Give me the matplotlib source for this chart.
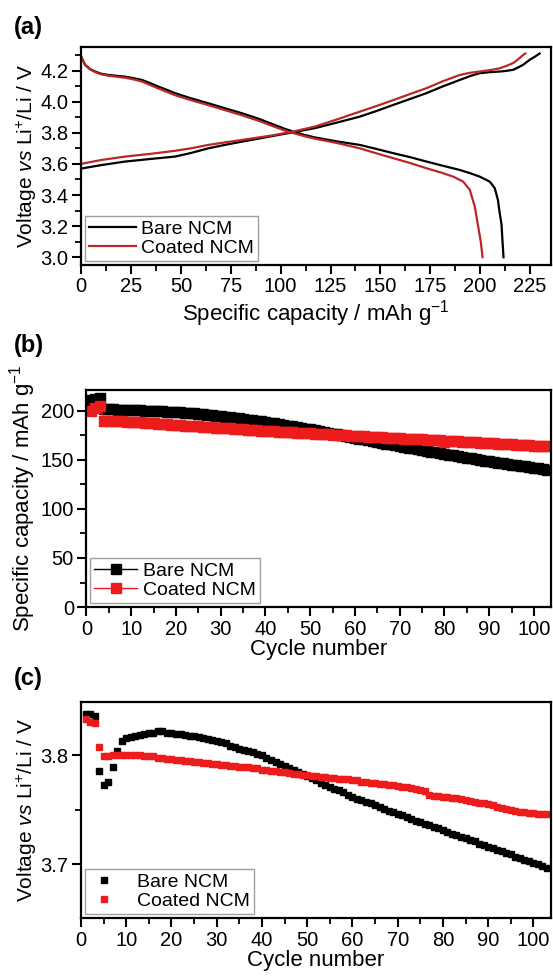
import matplotlib.pyplot as plt
from matplotlib.ticker import MultipleLocator, FormatStrFormatter

plt.rcParams['font.family'] = ['Liberation Sans', 'DejaVu Sans']
plt.rcParams['mathtext.fontset'] = 'custom'
plt.rcParams['mathtext.rm'] = 'Liberation Sans'
plt.rcParams['mathtext.it'] = 'Liberation Sans:italic'

# (a) charge / discharge curves (capacity in mAh/g, voltage in V)
bare_chg_cap = [0, 10, 22, 35, 47, 55, 63.7, 72, 80.5, 90, 97.1, 107, 117.2, 128, 139.7, 148, 156.4, 165,
                173.1, 181, 189.8, 195, 199.8, 205, 209.9, 213, 216.5, 219, 221.5, 224.9, 227.5, 229.8]
bare_chg_v = [3.57, 3.592, 3.615, 3.632, 3.647, 3.67, 3.70, 3.722, 3.743, 3.765, 3.782, 3.805, 3.83, 3.865,
              3.904, 3.94, 3.979, 4.018, 4.055, 4.097, 4.14, 4.165, 4.183, 4.19, 4.194, 4.198, 4.205, 4.22,
              4.237, 4.27, 4.29, 4.31]
bare_dis_cap = [0, 2, 4.5, 7, 10, 13.6, 18, 22, 26, 30.4, 34.5, 38.7, 43, 47, 55, 63.7, 72, 80.5, 89, 97.1,
                102, 107.2, 112, 117.2, 128, 139.7, 148, 156.4, 165, 173.1, 181, 189.8, 195, 199.8, 204.8,
                207.3, 208.9, 209.6, 210.7, 211.2, 211.7]
bare_dis_v = [4.29, 4.237, 4.21, 4.194, 4.18, 4.172, 4.166, 4.161, 4.152, 4.14, 4.12, 4.097, 4.076, 4.055,
              4.022, 3.99, 3.958, 3.926, 3.89, 3.85, 3.826, 3.804, 3.786, 3.77, 3.745, 3.722, 3.696, 3.669,
              3.643, 3.615, 3.589, 3.561, 3.54, 3.518, 3.486, 3.444, 3.368, 3.30, 3.21, 3.10, 3.0]
coat_chg_cap = [0, 10, 22, 35, 47, 55, 63.7, 72, 80.5, 90, 97.1, 107, 117.2, 128, 139.7, 148, 156.4, 165,
                173.1, 181, 189.8, 195, 199.8, 205, 209.9, 213.5, 216.5, 219, 221.5, 222.6]
coat_chg_v = [3.60, 3.625, 3.647, 3.665, 3.684, 3.70, 3.722, 3.738, 3.754, 3.772, 3.786, 3.81, 3.84, 3.885,
              3.936, 3.972, 4.01, 4.05, 4.087, 4.13, 4.172, 4.186, 4.194, 4.203, 4.215, 4.232, 4.248, 4.272,
              4.30, 4.31]
coat_dis_cap = [0, 2, 4.5, 7, 10, 13.6, 18, 22, 26, 30.4, 34.5, 38.7, 43, 47, 55, 63.7, 72, 80.5, 89, 97.1,
                102, 107.2, 112, 117.2, 128, 139.7, 148, 156.4, 165, 173.1, 181, 186.5, 191.5, 194.8, 197.3,
                199, 200.3, 201.2]
coat_dis_v = [4.29, 4.235, 4.208, 4.19, 4.176, 4.167, 4.16, 4.154, 4.144, 4.13, 4.108, 4.085, 4.063, 4.042,
              4.01, 3.978, 3.946, 3.913, 3.877, 3.838, 3.815, 3.795, 3.778, 3.762, 3.735, 3.70, 3.668, 3.637,
              3.605, 3.572, 3.542, 3.518, 3.486, 3.433, 3.326, 3.197, 3.10, 3.0]

# (b) cycling capacity
cycles = list(range(1, 104))
bare_cap = [211, 212, 213,
    201.5, 201.4, 201.3, 201.2, 201.1, 201.0, 200.8, 200.6, 200.4, 200.2, 200.0, 199.8, 199.6, 199.4, 199.2, 199.0,
    198.8, 198.4, 198.0, 197.6, 197.2, 196.8, 196.3, 195.9, 195.4, 195.0,
    194.5, 194.0, 193.4, 192.8, 192.2, 191.6, 191.0, 190.4, 189.8, 189.2,
    188.5, 187.8, 187.0, 186.3, 185.5, 184.8, 184.0, 183.3, 182.5, 181.8,
    181.0, 180.2, 179.3, 178.5, 177.6, 176.8, 175.9, 175.1, 174.2, 173.4,
    172.5, 171.6, 170.8, 169.9, 169.1, 168.2, 167.4, 166.5, 165.7, 164.8,
    164.0, 163.2, 162.4, 161.6, 160.8, 160.0, 159.2, 158.4, 157.6, 156.8,
    156.0, 155.2, 154.5, 153.7, 153.0, 152.2, 151.5, 150.7, 150.0, 149.2,
    148.5, 147.8, 147.2, 146.5, 145.9, 145.2, 144.6, 143.9, 143.3, 142.6,
    142.0, 141.3, 140.7, 140.0]
coat_cap = [200, 203, 205,
    190.0, 189.8, 189.6, 189.4, 189.2, 189.0, 188.8, 188.5, 188.1, 187.8, 187.4, 187.1, 186.8, 186.4, 186.1, 185.8,
    185.5, 185.2, 184.9, 184.6, 184.3, 184.0, 183.7, 183.4, 183.1, 182.8,
    182.5, 182.2, 181.9, 181.6, 181.3, 181.0, 180.7, 180.4, 180.1, 179.8,
    179.5, 179.2, 179.0, 178.7, 178.5, 178.2, 178.0, 177.7, 177.5, 177.2,
    177.0, 176.7, 176.5, 176.2, 176.0, 175.7, 175.5, 175.2, 175.0, 174.7,
    174.5, 174.2, 174.0, 173.7, 173.5, 173.2, 173.0, 172.7, 172.5, 172.2,
    172.0, 171.7, 171.5, 171.2, 171.0, 170.7, 170.5, 170.2, 170.0, 169.7,
    168.5, 169.2, 169.0, 168.7, 168.5, 168.2, 168.0, 167.7, 167.5, 167.2,
    167.0, 166.7, 166.5, 166.2, 166.0, 165.7, 165.5, 165.2, 165.0, 164.7,
    164.5, 164.2, 164.0, 163.7]

# (c) average voltage
bare_v = [3.838, 3.838, 3.836, 3.786, 3.773, 3.776, 3.789, 3.804, 3.813,
    3.816, 3.817, 3.818, 3.819, 3.820, 3.821, 3.821, 3.822, 3.822, 3.821,
    3.821, 3.820, 3.820, 3.819, 3.818, 3.818, 3.817, 3.816, 3.815, 3.814,
    3.813, 3.812, 3.811, 3.809, 3.808, 3.806, 3.805, 3.804, 3.803, 3.801,
    3.800, 3.798, 3.796, 3.794, 3.792, 3.790, 3.788, 3.787, 3.785, 3.783,
    3.781, 3.779, 3.777, 3.775, 3.773, 3.771, 3.769, 3.768, 3.766, 3.764,
    3.762, 3.760, 3.759, 3.757, 3.756, 3.754, 3.753, 3.751, 3.749, 3.748,
    3.746, 3.745, 3.743, 3.742, 3.740, 3.739, 3.737, 3.736, 3.734, 3.733,
    3.731, 3.730, 3.728, 3.727, 3.725, 3.724, 3.722, 3.721, 3.719, 3.718,
    3.716, 3.715, 3.713, 3.712, 3.710, 3.709, 3.707, 3.706, 3.704, 3.703,
    3.701, 3.700, 3.698, 3.697]
coat_v = [3.833, 3.831, 3.830, 3.808, 3.799, 3.799, 3.800, 3.800, 3.800,
    3.800, 3.800, 3.800, 3.800, 3.799, 3.799, 3.799, 3.798, 3.798, 3.797,
    3.797, 3.796, 3.796, 3.795, 3.795, 3.794, 3.794, 3.793, 3.793, 3.792,
    3.792, 3.791, 3.791, 3.790, 3.790, 3.789, 3.789, 3.789, 3.788, 3.788,
    3.787, 3.787, 3.786, 3.786, 3.785, 3.785, 3.784, 3.783, 3.783, 3.782,
    3.782, 3.781, 3.781, 3.780, 3.780, 3.779, 3.779, 3.778, 3.778, 3.778,
    3.777, 3.777, 3.776, 3.776, 3.775, 3.775, 3.774, 3.774, 3.773, 3.773,
    3.772, 3.771, 3.771, 3.770, 3.769, 3.768, 3.767, 3.764, 3.763, 3.763,
    3.762, 3.762, 3.761, 3.761, 3.760, 3.759, 3.758, 3.757, 3.756, 3.756,
    3.755, 3.754, 3.753, 3.752, 3.751, 3.750, 3.749, 3.748, 3.748, 3.747,
    3.747, 3.746, 3.746, 3.746]

dark_red = '#b8282a'
red = '#ec1c1c'
tick_fs = 14.5
lab_fs = 16
volt_fs = 15
leg_fs = 14


def style(ax):
    for s in ax.spines.values():
        s.set_linewidth(1.6)
    ax.tick_params(which='major', direction='out', length=6.5, width=1.5, labelsize=tick_fs,
                   top=False, right=False, pad=2.5)
    ax.tick_params(which='minor', direction='out', length=4, width=1.3, top=False, right=False)


def legend(ax, hl, tp):
    leg = ax.legend(loc='lower left', fontsize=leg_fs, frameon=True, fancybox=False,
                    edgecolor='#888888', handlelength=hl, borderaxespad=0.2,
                    borderpad=0.2, labelspacing=0.1, handletextpad=tp)
    leg.get_frame().set_linewidth(1.0)


fig = plt.figure(figsize=(5.53, 9.76), dpi=100)

ax1 = fig.add_axes([0.1467, 0.7285, 0.8497, 0.2234])
ax1.plot(bare_chg_cap, bare_chg_v, color='black', lw=1.6, label='Bare NCM')
ax1.plot(bare_dis_cap, bare_dis_v, color='black', lw=1.6)
ax1.plot(coat_chg_cap, coat_chg_v, color=dark_red, lw=1.6, label='Coated NCM')
ax1.plot(coat_dis_cap, coat_dis_v, color=dark_red, lw=1.6)
ax1.set_xlim(0, 235.5)
ax1.set_ylim(2.95, 4.352)
ax1.xaxis.set_major_locator(MultipleLocator(25))
ax1.xaxis.set_minor_locator(MultipleLocator(12.5))
ax1.yaxis.set_major_locator(MultipleLocator(0.2))
ax1.yaxis.set_minor_locator(MultipleLocator(0.1))
ax1.yaxis.set_major_formatter(FormatStrFormatter('%.1f'))
ax1.set_xlabel('Specific capacity / mAh g$^{-1}$', fontsize=lab_fs, labelpad=1)
ax1.set_ylabel('Voltage $vs$ Li$^{+}$/Li / V', fontsize=volt_fs, labelpad=1)
style(ax1)
legend(ax1, 2.4, 0.3)

ax2 = fig.add_axes([0.1562, 0.378, 0.8401, 0.2223])
ax2.plot(cycles, bare_cap, color='black', marker='s', ms=7, lw=1, label='Bare NCM')
ax2.plot(cycles, coat_cap, color=red, marker='s', ms=7, lw=1, label='Coated NCM')
ax2.set_xlim(0, 103.8)
ax2.set_ylim(0, 221)
ax2.xaxis.set_major_locator(MultipleLocator(10))
ax2.xaxis.set_minor_locator(MultipleLocator(5))
ax2.yaxis.set_major_locator(MultipleLocator(50))
ax2.yaxis.set_minor_locator(MultipleLocator(25))
ax2.set_xlabel('Cycle number', fontsize=lab_fs, labelpad=0)
ax2.set_ylabel('Specific capacity / mAh g$^{-1}$', fontsize=lab_fs, labelpad=2)
style(ax2)
legend(ax2, 2.2, 0.3)

ax3 = fig.add_axes([0.1465, 0.0594, 0.8499, 0.2213])
ax3.plot(cycles, bare_v, color='black', marker='s', ms=5, ls='none', label='Bare NCM')
ax3.plot(cycles, coat_v, color=red, marker='s', ms=5, ls='none', label='Coated NCM')
ax3.set_xlim(0, 103.9)
ax3.set_ylim(3.6506, 3.849)
ax3.xaxis.set_major_locator(MultipleLocator(10))
ax3.xaxis.set_minor_locator(MultipleLocator(5))
ax3.yaxis.set_major_locator(MultipleLocator(0.1))
ax3.yaxis.set_minor_locator(MultipleLocator(0.05))
ax3.yaxis.set_major_formatter(FormatStrFormatter('%.1f'))
ax3.set_xlabel('Cycle number', fontsize=lab_fs, labelpad=0)
ax3.set_ylabel('Voltage $vs$ Li$^{+}$/Li / V', fontsize=volt_fs, labelpad=1)
style(ax3)
legend(ax3, 1.6, 0.9)

for lab, y in [('(a)', 0.972), ('(b)', 0.6455), ('(c)', 0.3053)]:
    fig.text(0.025, y, lab, fontsize=17, fontweight='bold', va='center', ha='left')

fig.savefig('out.png', dpi=100)
